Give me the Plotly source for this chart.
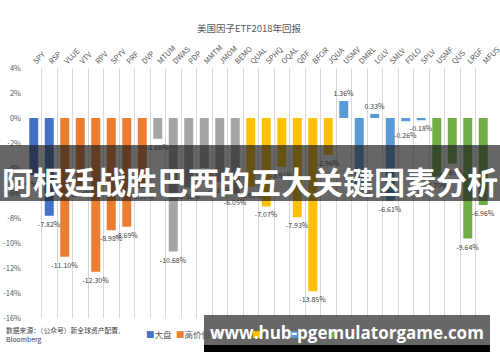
import plotly.graph_objects as go

# ---------------- data ----------------
title_text = "美国因子ETF2018年回报"
groups = ["大盘", "高价值", "高动量", "高质量", "低波动", "多因子"]
group_colors = ["#4472C4", "#ED7D31", "#A5A5A5", "#FFC000", "#5B9BD5", "#70AD47"]

cat_large = ["SPY", "RSP"]
val_large = [-4.56, -7.82]
cat_value = ["VLUE", "VTV", "RPV", "SPYV", "PRF", "DVP"]
val_value = [-11.10, -5.43, -12.30, -8.98, -8.69, -5.59]
cat_mom = ["MTUM", "DWAS", "PDP", "MMTM", "JMOM", "BEMO"]
val_mom = [-1.66, -10.68, -5.56, -4.00, -5.12, -6.05]
cat_qual = ["QUAL", "SPHQ", "OQAL", "QDF", "BFOR", "JQUA"]
val_qual = [-5.50, -7.07, -3.91, -7.93, -13.85, -2.96]
cat_lowvol = ["USMV", "DMRL", "LGLV", "SMLV", "FDLO", "SPLV"]
val_lowvol = [1.36, -5.30, 0.33, -6.61, -0.26, -0.18]
cat_multi = ["USMF", "QUS", "LRGF", "MFUS"]
val_multi = [-4.70, -3.65, -9.64, -6.96]

# data labels that were moved lower in the original to avoid a neighbour
moved_labels = ["FDLO"]

y_ticks = [4, 2, 0, -2, -4, -6, -8, -10, -12, -14, -16]
y_ticktext = [f"{t}%" for t in y_ticks]

source_text = "数据来源：（公众号）新全球资产配置,<br>Bloomberg"
banner_text = "阿根廷战胜巴西的五大关键因素分析"
watermark_text = "www.hub-pgemulatorgame.com"

cat_groups = [cat_large, cat_value, cat_mom, cat_qual, cat_lowvol, cat_multi]
val_groups = [val_large, val_value, val_mom, val_qual, val_lowvol, val_multi]
all_cats = [c for g in cat_groups for c in g]

# ---------------- layout geometry ----------------
W, H = 500, 362
L, R, T, B = 26, 9, 68, 44
PW, PH = W - L - R, H - T - B


def px(x):
    return (x - L) / PW


def py(y):
    return (H - B - y) / PH


FONT = "Noto Sans CJK SC"
TXT = "#595959"
LBL = dict(size=7, color="#404040", family=FONT)

fig = go.Figure()
annotations = []
for name, color, cats, vals in zip(groups, group_colors, cat_groups, val_groups):
    texts = []
    for c, v in zip(cats, vals):
        if c in moved_labels:
            texts.append("")
            annotations.append(dict(x=c, y=v, xref="x", yref="y", text=f"{v:.2f}%",
                                    showarrow=False, yanchor="middle", yshift=-14,
                                    font=LBL))
        else:
            texts.append(f"{v:.2f}%")
    fig.add_trace(go.Bar(
        x=cats, y=vals, name=name, marker=dict(color=color, line=dict(width=0)),
        text=texts, textposition="outside", textfont=LBL,
        textangle=0, constraintext="none", cliponaxis=False,
        showlegend=False, hoverinfo="skip",
    ))

# title
annotations.append(dict(text=title_text, x=px(249), y=py(28), xref="paper", yref="paper",
                        xanchor="center", yanchor="middle",
                        showarrow=False, font=dict(size=9.5, color=TXT, family=FONT)))
# source
annotations.append(dict(text=source_text, x=px(4), y=py(323), xref="paper", yref="paper",
                        xanchor="left", yanchor="top", align="left", showarrow=False,
                        font=dict(size=6.8, color="#404040", family=FONT)))
# legend as text items
lx = 144
for name, color in zip(groups, group_colors):
    annotations.append(dict(
        text=f"<span style='color:{color}'>■</span>{name}", x=px(lx), y=py(334),
        xref="paper", yref="paper", xanchor="left", yanchor="middle", showarrow=False,
        font=dict(size=8.5, color=TXT, family=FONT)))
    lx += 4 + 8.5 * (len(name) + 1)

shapes = [
    # banner
    dict(type="rect", xref="paper", yref="paper", x0=px(0), x1=px(500), y0=py(201), y1=py(145),
         fillcolor="rgba(30,30,30,0.68)", line=dict(width=0), layer="above"),
    # watermark box
    dict(type="rect", xref="paper", yref="paper", x0=px(204), x1=px(490), y0=py(345), y1=py(315),
         fillcolor="rgba(45,45,45,0.72)", line=dict(width=0), layer="above"),
    dict(type="rect", xref="paper", yref="paper", x0=px(204), x1=px(490), y0=py(352), y1=py(345),
         fillcolor="#000000", line=dict(width=0), layer="above"),
]
annotations.append(dict(text=f"<b>{banner_text}</b>", x=px(250), y=py(180), xref="paper", yref="paper",
                        xanchor="center", yanchor="middle",
                        showarrow=False, font=dict(size=31, color="white", family=FONT)))
annotations.append(dict(text=f"<b>{watermark_text}</b>", x=px(347), y=py(332), xref="paper",
                        yref="paper", xanchor="center", yanchor="middle", showarrow=False,
                        font=dict(size=17, color="white", family="Open Sans")))

fig.update_layout(
    width=W, height=H, margin=dict(l=L, r=R, t=T, b=B, pad=0, autoexpand=False),
    paper_bgcolor="white", plot_bgcolor="white",
    barmode="overlay", bargap=0.42,
    showlegend=False,
    font=dict(family=FONT, color=TXT),
    xaxis=dict(type="category", categoryorder="array", categoryarray=all_cats,
               side="top", tickangle=-45, tickfont=dict(size=7.5, color=TXT, family=FONT),
               showgrid=True, gridcolor="#D9D9D9", gridwidth=1, tickson="boundaries",
               ticks="", showline=False, zeroline=False, automargin=False,
               range=[-0.5, len(all_cats) - 0.5]),
    yaxis=dict(range=[-16, 4], tickvals=y_ticks, ticktext=y_ticktext, automargin=False,
               tickfont=dict(size=7.5, color=TXT, family=FONT), showgrid=False,
               zeroline=False, showline=False, ticks="", ticklabelstandoff=4),
    annotations=annotations, shapes=shapes,
)

fig.write_html("out.html", config={"displayModeBar": False},
               post_script="document.body.style.margin='0';document.body.style.padding='0';")
